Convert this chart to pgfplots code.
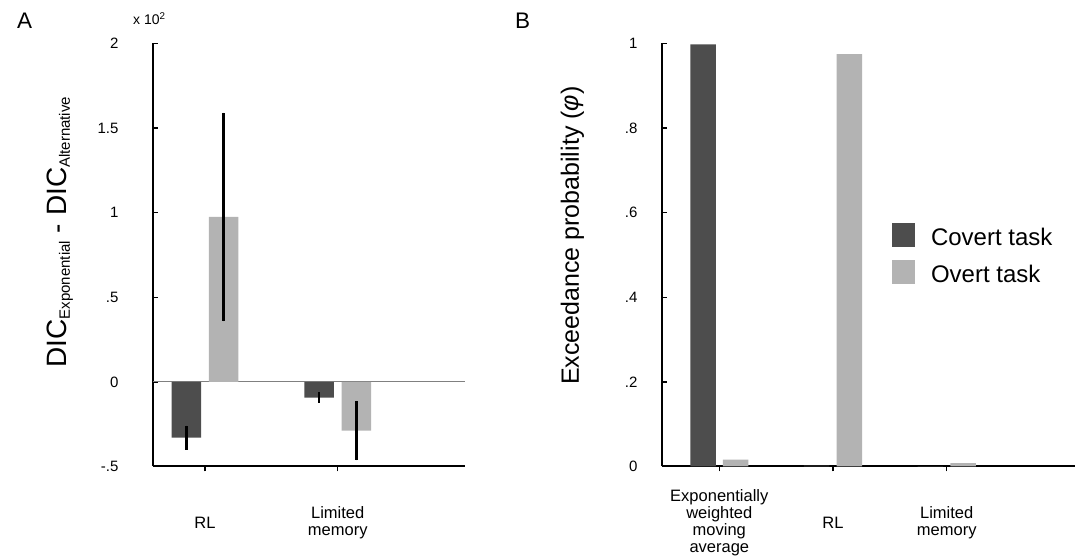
\documentclass[border=0pt]{standalone}
\usepackage{fontspec}
\setmainfont{Liberation Sans}
\usepackage{pgfplots}
\pgfplotsset{compat=1.18}
\definecolor{covert}{HTML}{4D4D4D}
\definecolor{overt}{HTML}{B3B3B3}
\newcommand{\fs}[1]{\fontsize{#1}{#1}\selectfont}

\pgfplotstableread{
x  covert  covertErr  overt  overtErr
0  -0.330  0.072      0.975  0.617
1  -0.093  0.031     -0.288  0.176
}\dicdata

\pgfplotstableread{
x  covert  overt
0  0.998   0.016
1  0.002   0.975
2  0.001   0.008
}\epdata

\pgfplotsset{
  every non boxed x axis/.append style={xtick align=inside},
  every non boxed y axis/.append style={ytick align=inside},
  panel/.style={
    scale only axis, height=423pt,
    axis lines=left,
    axis line style={-, line width=2pt, black},
    tick align=inside,
    major tick length=5pt,
    tick style={line width=1.3pt, black},
    ybar,
    yticklabel style={font=\fs{15}},
    xticklabel style={font=\fontsize{16.5}{17}\selectfont, align=center, anchor=center, yshift=-51pt},
    clip=false,
  }
}

\begin{document}
\begin{tikzpicture}[x=1pt,y=1pt]
\useasboundingbox (0,0) rectangle (1079,556);

\node[anchor=base west, inner sep=0pt, font=\fs{22.5}] at (17,527) {A};
\node[anchor=base west, inner sep=0pt, font=\fs{22.5}] at (515,527) {B};
\node[anchor=base west, inner sep=0pt, font=\fs{14}] at (133,531) {x 10\textsuperscript{2}};

\begin{axis}[panel, at={(153pt,89.5pt)}, anchor=south west, width=312pt,
  xmin=-0.392, xmax=1.959, ymin=-0.5, ymax=2,
  xtick={0,1}, xticklabels={RL, Limited\\memory},
  ytick={-0.5,0,0.5,1,1.5,2}, yticklabels={-.5,0,.5,1,1.5,2},
  yticklabel style={xshift=-31pt},
  bar width=29.5pt,
  ylabel={\fs{28}DIC\raisebox{-3pt}{\fs{15}Exponential} - DIC\raisebox{-3pt}{\fs{15}Alternative}},
  ylabel style={at={(axis description cs:-0.276,0.554)}, anchor=base, inner sep=0pt},
]
\addplot[sharp plot, color=gray, line width=1pt, forget plot] coordinates {(-0.392,0) (1.959,0)};
\addplot[fill=covert, draw=none, bar shift=-18.7pt,
  error bars/.cd, y dir=both, y explicit, error mark=none,
  error bar style={line width=2.8pt, black}]
  table[x=x, y=covert, y error=covertErr] {\dicdata};
\addplot[fill=overt, draw=none, bar shift=18.7pt,
  error bars/.cd, y dir=both, y explicit, error mark=none,
  error bar style={line width=2.8pt, black}]
  table[x=x, y=overt, y error=overtErr] {\dicdata};
\end{axis}

\begin{axis}[panel, at={(662pt,89.5pt)}, anchor=south west, width=413pt,
  xmin=-0.504, xmax=3.128, ymin=0, ymax=1,
  xtick={0,1,2}, xticklabels={Exponentially\\weighted\\moving\\average, RL, Limited\\memory},
  ytick={0,0.2,0.4,0.6,0.8,1}, yticklabels={0,.2,.4,.6,.8,1},
  yticklabel style={xshift=-21pt},
  bar width=25.5pt,
  ylabel={\fs{25}Exceedance probability (\textit{φ})},
  ylabel style={at={(axis description cs:-0.201,0.5456)}, anchor=base, inner sep=0pt},
  legend image code/.code={\fill[#1] (0pt,-9.8pt) rectangle (23pt,14.2pt);},
  legend cell align=left,
  legend style={draw=none, fill=none, at={(axis description cs:0.557,0.576)}, anchor=north west,
    inner sep=0pt, outer sep=0pt, font=\fs{24}, row sep=13pt, column sep=16pt,
    nodes={inner sep=0pt, text height=17pt, text depth=0pt}},
]
\addplot[fill=covert, draw=none, bar shift=-16.3pt] table[x=x, y=covert] {\epdata};
\addlegendentry{Covert task}
\addplot[fill=overt, draw=none, bar shift=16.3pt] table[x=x, y=overt] {\epdata};
\addlegendentry{Overt task}
\end{axis}
\end{tikzpicture}
\end{document}
